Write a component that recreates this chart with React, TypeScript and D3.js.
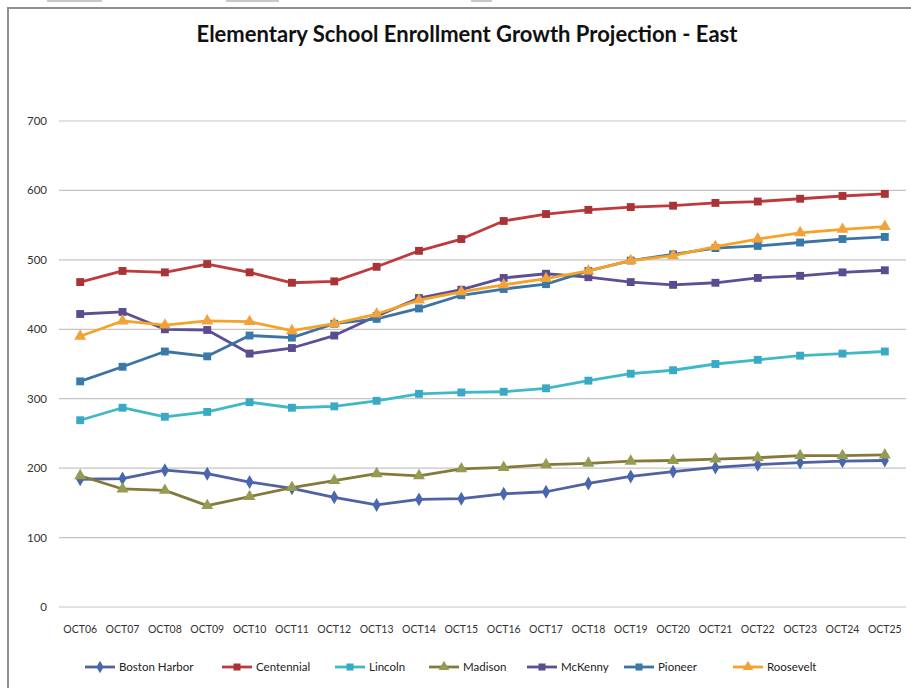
import React from "react";
import * as d3 from "d3";

const categories = ["OCT06","OCT07","OCT08","OCT09","OCT10","OCT11","OCT12","OCT13","OCT14","OCT15","OCT16","OCT17","OCT18","OCT19","OCT20","OCT21","OCT22","OCT23","OCT24","OCT25"];

const bostonHarbor = [184,185,197,192,180,171,158,147,155,156,163,166,178,188,195,201,205,208,210,211];
const centennial = [468,484,482,494,482,467,469,490,513,530,556,566,572,576,578,582,584,588,592,595];
const lincoln = [269,287,274,281,295,287,289,297,307,309,310,315,326,336,341,350,356,362,365,368];
const madison = [189,170,168,146,159,172,182,192,189,199,201,205,207,210,211,213,215,218,218,219];
const mcKenny = [422,425,400,399,365,373,391,419,445,457,474,480,475,468,464,467,474,477,482,485];
const pioneer = [325,346,368,361,391,388,408,415,430,449,458,465,484,499,508,517,520,525,530,533];
const roosevelt = [390,412,406,412,411,398,408,422,442,454,464,473,484,499,506,519,530,539,544,548];

const yTicks = [0,100,200,300,400,500,600,700];

const seriesNames = ["Boston Harbor","Centennial","Lincoln","Madison","McKenny","Pioneer","Roosevelt"];
const seriesValues = [bostonHarbor, centennial, lincoln, madison, mcKenny, pioneer, roosevelt];
const lineColors = ["#4F62A3","#BE3A3C","#3FB9C8","#857A3A","#5E4E95","#3B74A4","#F4A327"];
const markerColors = ["#4A66AE","#A93438","#3AA9C6","#949C52","#5B4C8F","#3A7AAA","#F2A23A"];
const markerKinds = ["diamond","square","square","triangle","square","square","triangle"];
const legendX = [85,222,335,429,527,624,733];

const FONT = "Lato, 'Open Sans', sans-serif";

function symbolPath(kind: string, scale: number) {
  const type = kind === "diamond" ? d3.symbolDiamond : kind === "triangle" ? d3.symbolTriangle : d3.symbolSquare;
  const size = kind === "diamond" ? 56 : kind === "triangle" ? 62 : 62;
  return d3.symbol().type(type).size(size * scale)()!;
}

export default function App() {
  const W = 911, H = 688;
  const x = d3.scalePoint<string>().domain(categories).range([59, 906]).padding(0.5);
  const y = d3.scaleLinear().domain([0, 700]).range([607, 121]);
  const line = d3.line<number>().x((_, i) => x(categories[i])!).y((d) => y(d));

  return (
    <svg width={W} height={H} style={{ position: "absolute", left: 0, top: 0, background: "#fff" }} fontFamily={FONT}>
      <rect x={0} y={0} width={W} height={H} fill="#fff" />
      <rect x={47} y={0} width={55} height={2} fill="#c8c8c8" />
      <rect x={226} y={0} width={53} height={2} fill="#c8c8c8" />
      <rect x={471} y={0} width={21} height={2} fill="#c8c8c8" />
      <rect x={8} y={8} width={W + 20} height={H + 20} fill="none" stroke="#8f8f8f" strokeWidth={2} />
      <text x={467} y={42} textAnchor="middle" fontSize={22} fontWeight="bold" fill="#111">
        Elementary School Enrollment Growth Projection - East
      </text>
      {yTicks.map((t) => (
        <g key={t}>
          <line x1={59} x2={906} y1={y(t)} y2={y(t)} stroke="#c4c4c4" strokeWidth={1.2} />
          <text x={47} y={y(t)} dy="0.35em" textAnchor="end" fontSize={11.5} fill="#333">{t}</text>
        </g>
      ))}
      {categories.map((c) => (
        <text key={c} x={x(c)} y={633} textAnchor="middle" fontSize={10.5} fill="#333">{c}</text>
      ))}
      {seriesValues.map((vals, si) => (
        <g key={seriesNames[si]}>
          <path d={line(vals)!} fill="none" stroke={lineColors[si]} strokeWidth={2.8} strokeLinejoin="round" />
          {vals.map((v, i) => (
            <path key={i} d={symbolPath(markerKinds[si], 1)} transform={`translate(${x(categories[i])},${y(v)})`} fill={markerColors[si]} />
          ))}
        </g>
      ))}
      {seriesNames.map((n, si) => (
        <g key={n} transform={`translate(${legendX[si]},667)`}>
          <line x1={0} x2={30} y1={0} y2={0} stroke={lineColors[si]} strokeWidth={2.8} />
          <path d={symbolPath(markerKinds[si], 0.8)} transform="translate(15,0)" fill={markerColors[si]} />
          <text x={34} y={0} dy="0.35em" fontSize={11.5} fill="#222">{n}</text>
        </g>
      ))}
    </svg>
  );
}
